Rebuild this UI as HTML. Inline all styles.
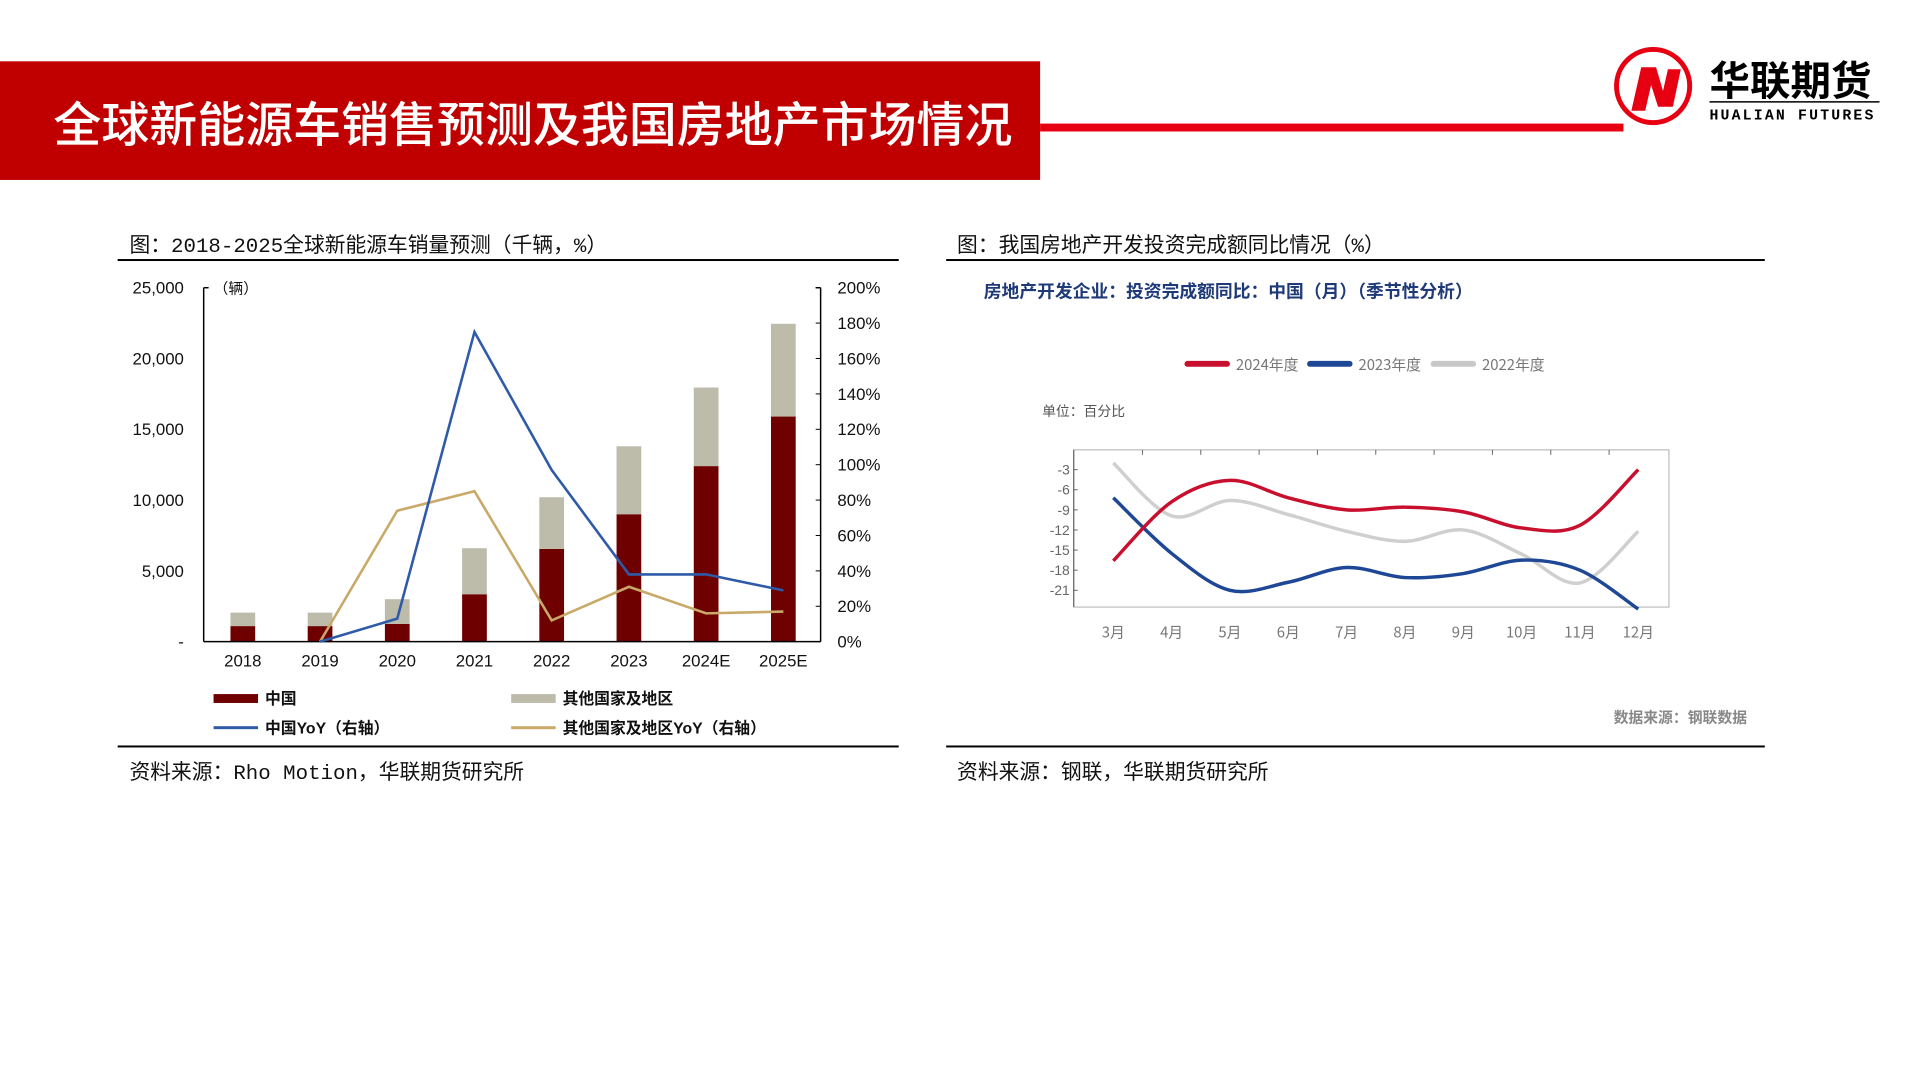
<!DOCTYPE html>
<html><head><meta charset="utf-8">
<style>
html,body{margin:0;padding:0;background:#fff;}
body{width:1920px;height:1080px;position:relative;overflow:hidden;font-family:"Liberation Sans","Noto Sans CJK SC",sans-serif;}
#wrap{position:absolute;left:0;top:0;width:1920px;height:1080px;transform:scale(0.9887);transform-origin:0 0;}
.abs{position:absolute;}
.cap{font-family:"Liberation Mono","Noto Sans CJK SC",monospace;font-size:21px;color:#111;white-space:nowrap;}
</style></head>
<body>
<div id="wrap">
<div class="abs" style="left:0;top:62px;width:1052px;height:120px;background:#c00000;"></div>
<div class="abs" style="left:54px;top:90px;color:#fff;font-size:48.5px;font-family:'Noto Sans CJK SC',sans-serif;font-weight:500;white-space:nowrap;line-height:64px;">全球新能源车销售预测及我国房地产市场情况</div>
<div class="abs" style="left:1052px;top:125px;width:590px;height:8px;background:#e60012;"></div>
<svg class="abs" style="left:1620px;top:40px" width="320" height="100">
<circle cx="52" cy="47" r="37" fill="#fff" stroke="#e60012" stroke-width="5"/>
<path d="M30 72 L40 28 L55 28 L62 52 L67 30 L80 30 L72 68 L57 68 L50 46 L44 72 Z" fill="#e60012"/>
<text x="109" y="56" font-family="Noto Sans CJK SC,sans-serif" font-weight="700" font-size="41" fill="#000">华联期货</text>
<line x1="109" y1="63" x2="281" y2="63" stroke="#000" stroke-width="1.5"/>
<text x="109" y="81" font-family="Liberation Mono,monospace" font-size="15" font-weight="700" letter-spacing="2.2" fill="#000">HUALIAN FUTURES</text>
</svg>

<div class="abs cap" style="left:131px;top:232px;">图：2018-2025全球新能源车销量预测（千辆，%）</div>
<div class="abs" style="left:119px;top:262px;width:790px;height:2px;background:#000;"></div>
<div class="abs" style="left:119px;top:754px;width:790px;height:2px;background:#000;"></div>
<div class="abs cap" style="left:131px;top:765px;">资料来源：Rho Motion，华联期货研究所</div>

<div class="abs cap" style="left:968px;top:232px;">图：我国房地产开发投资完成额同比情况（%）</div>
<div class="abs" style="left:957px;top:262px;width:828px;height:2px;background:#000;"></div>
<div class="abs" style="left:957px;top:754px;width:828px;height:2px;background:#000;"></div>
<div class="abs cap" style="left:968px;top:765px;">资料来源：钢联，华联期货研究所</div>

<svg id="c1" class="abs" style="left:0;top:0" width="960" height="760"></svg>
<svg id="c2" class="abs" style="left:0;top:0" width="1920" height="760"></svg>
</div>

<script>
const categories=["2018","2019","2020","2021","2022","2023","2024E","2025E"];
const chinaSales=[1100,1100,1250,3350,6550,9000,12400,15900];
const otherSales=[950,950,1750,3250,3650,4800,5550,6550];
const chinaYoY=[null,0,13,175,97,38,38,29];
const otherYoY=[null,0,74,85,12,31,16,17];
const leftTicks=[0,5000,10000,15000,20000,25000];
const leftTickLabels=["-","5,000","10,000","15,000","20,000","25,000"];
const rightTicks=[0,20,40,60,80,100,120,140,160,180,200];

const months=["3月","4月","5月","6月","7月","8月","9月","10月","11月","12月"];
const yoy2024=[-16.6,-7.8,-4.6,-7.2,-9.0,-8.6,-9.3,-11.7,-11.3,-3.0];
const yoy2023=[-7.2,-15.5,-21.0,-19.8,-17.6,-19.1,-18.5,-16.5,-18.0,-23.8];
const yoy2022=[-2.0,-9.9,-7.6,-9.7,-12.2,-13.7,-12.0,-15.6,-19.9,-12.2];
const yTicks2=[-3,-6,-9,-12,-15,-18,-21];

const NS="http://www.w3.org/2000/svg";
function mk(svg,tag,attrs,text){const e=document.createElementNS(NS,tag);for(const k in attrs)e.setAttribute(k,attrs[k]);if(text!==undefined)e.textContent=text;svg.appendChild(e);return e;}

// ---- chart 1 ----
const c1=document.getElementById('c1');
const L=206,R=830,T=291,B=649;
const ySales=v=>B-(v/25000)*(B-T);
const yPct=v=>B-(v/200)*(B-T);
const xCat=i=>245.6+i*78.1;
mk(c1,'line',{x1:L,y1:T,x2:L,y2:B,stroke:'#000','stroke-width':1.5});
mk(c1,'line',{x1:L,y1:T,x2:L+5,y2:T,stroke:'#000','stroke-width':1.5});
mk(c1,'line',{x1:R,y1:T,x2:R,y2:B,stroke:'#000','stroke-width':1.5});
mk(c1,'line',{x1:R,y1:T,x2:R-5,y2:T,stroke:'#000','stroke-width':1.5});
leftTicks.forEach((v,i)=>{const t=mk(c1,'text',{x:186,y:ySales(v)+6,'text-anchor':'end','font-size':17,fill:'#111'},leftTickLabels[i]);

});
rightTicks.forEach(v=>{mk(c1,'line',{x1:R,y1:yPct(v),x2:R-5,y2:yPct(v),stroke:'#000','stroke-width':1});
const t=mk(c1,'text',{x:847,y:yPct(v)+6,'font-size':17,fill:'#111'},v+'%');

});
mk(c1,'text',{x:216,y:297,'font-size':15,fill:'#111','font-family':'Noto Sans CJK SC,sans-serif'},'（辆）');
categories.forEach((c,i)=>{
 const x=xCat(i),bw=25;
 const b1=mk(c1,'rect',{x:x-bw/2,y:ySales(chinaSales[i]),width:bw,height:B-ySales(chinaSales[i]),fill:'#6e0000'});
 
 
 const top=chinaSales[i]+otherSales[i];
 const b2=mk(c1,'rect',{x:x-bw/2,y:ySales(top),width:bw,height:ySales(chinaSales[i])-ySales(top),fill:'#bdbbaa'});
 
 
 const t=mk(c1,'text',{x:x,y:674,'text-anchor':'middle','font-size':17,fill:'#111'},c);
 
 
});
mk(c1,'line',{x1:L,y1:B,x2:R,y2:B,stroke:'#000','stroke-width':1.5});
function poly(arr,col,name){let d='';arr.forEach((v,i)=>{if(v===null)return;d+=(d?'L':'M')+xCat(i)+' '+yPct(v);});
 const p=mk(c1,'path',{d:d,fill:'none',stroke:col,'stroke-width':2.6});
 
 }
poly(otherYoY,'#c8a968','line-other-yoy');
poly(chinaYoY,'#2e5aa8','line-china-yoy');
const lg=[[216,706,'rect','#6e0000','中国'],[517,706,'rect','#bdbbaa','其他国家及地区'],[216,736,'line','#2e5aa8','中国YoY（右轴）'],[517,736,'line','#c8a968','其他国家及地区YoY（右轴）']];
lg.forEach(l=>{
 if(l[2]==='rect')mk(c1,'rect',{x:l[0],y:l[1]-4,width:45,height:9,fill:l[3]});
 else mk(c1,'rect',{x:l[0],y:l[1]-1.5,width:45,height:3,fill:l[3]});
 const t=mk(c1,'text',{x:l[0]+52,y:l[1]+6,'font-size':16,fill:'#111','font-weight':'bold','font-family':'Liberation Sans,Noto Sans CJK SC,sans-serif'},l[4]);
 
 
});

// ---- chart 2 ----
const c2=document.getElementById('c2');
const PL=1086,PR=1688,PT=455,PB=614;
const xM=i=>1126+i*59;
const yV=v=>475+(-3-v)*6.78;
mk(c2,'text',{x:995,y:301,'font-size':18,'font-weight':'bold',fill:'#1f3a78','font-family':'Noto Sans CJK SC,sans-serif'},'房地产开发企业：投资完成额同比：中国（月）（季节性分析）');
const lg2=[[1198,'#c8102e','2024年度'],[1322,'#1e4796','2023年度'],[1447,'#c8c8c8','2022年度']];
lg2.forEach(l=>{mk(c2,'rect',{x:l[0],y:365,width:46,height:6,rx:3,fill:l[1]});
 const t=mk(c2,'text',{x:l[0]+52,y:374,'font-size':15,fill:'#777','font-family':'Noto Sans CJK SC,sans-serif'},l[2]);
 
 });
mk(c2,'text',{x:1054,y:421,'font-size':14,fill:'#555','font-family':'Noto Sans CJK SC,sans-serif'},'单位：百分比');
mk(c2,'rect',{x:PL,y:PT,width:PR-PL,height:PB-PT,fill:'none',stroke:'#bbb','stroke-width':1.2});
mk(c2,'line',{x1:PL,y1:PT,x2:PL,y2:PB,stroke:'#666','stroke-width':1.2});
for(let i=1;i<months.length;i++){const x=(xM(i-1)+xM(i))/2;mk(c2,'line',{x1:x,y1:PT,x2:x,y2:PT+5,stroke:'#666','stroke-width':1});}
yTicks2.forEach(v=>{mk(c2,'line',{x1:PL,y1:yV(v),x2:PL+4,y2:yV(v),stroke:'#666'});
 const t=mk(c2,'text',{x:PL-4,y:yV(v)+5,'text-anchor':'end','font-size':14,fill:'#666'},String(v));
 
 });
months.forEach((m,i)=>{const t=mk(c2,'text',{x:xM(i),y:645,'text-anchor':'middle','font-size':15,fill:'#777','font-family':'Noto Sans CJK SC,sans-serif'},m);
 
 });
function smooth(arr){const p=arr.map((v,i)=>[xM(i),yV(v)]);let d='M'+p[0][0]+' '+p[0][1];
 for(let i=0;i<p.length-1;i++){const p0=p[i-1]||p[i],p1=p[i],p2=p[i+1],p3=p[i+2]||p2;
  const c1x=p1[0]+(p2[0]-p0[0])/6,c1y=p1[1]+(p2[1]-p0[1])/6,c2x=p2[0]-(p3[0]-p1[0])/6,c2y=p2[1]-(p3[1]-p1[1])/6;
  d+=' C'+c1x+' '+c1y+' '+c2x+' '+c2y+' '+p2[0]+' '+p2[1];}
 return d;}
[[yoy2022,'#cfcfcf','line-2022'],[yoy2023,'#1e4796','line-2023'],[yoy2024,'#c8102e','line-2024']].forEach(s=>{
 const p=mk(c2,'path',{d:smooth(s[0]),fill:'none',stroke:s[1],'stroke-width':3.5});
 
 });
mk(c2,'text',{x:1767,y:731,'text-anchor':'end','font-size':15,'font-weight':'bold',fill:'#888','font-family':'Noto Sans CJK SC,sans-serif'},'数据来源：钢联数据');
</script>
</body></html>
